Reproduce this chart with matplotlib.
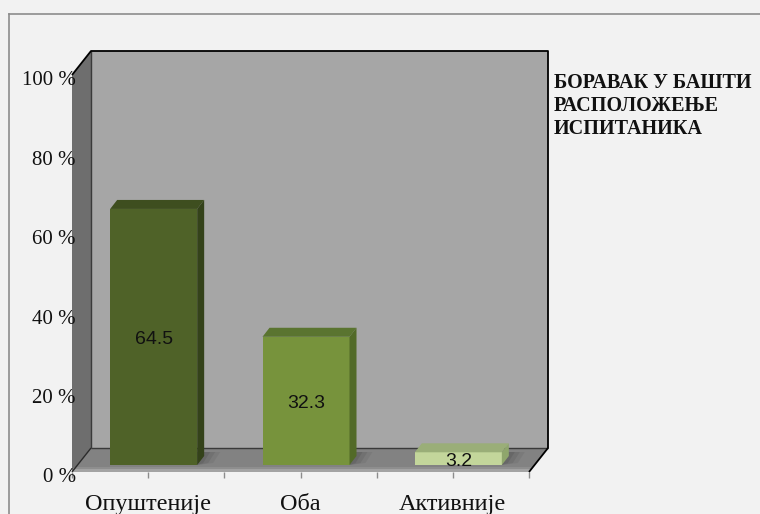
import matplotlib
matplotlib.use('Agg')
import matplotlib.pyplot as plt
from matplotlib.patches import Polygon
from matplotlib.lines import Line2D

categories = ['Опуштеније', 'Оба', 'Активније']
values = [64.5, 32.3, 3.2]
y_ticks = [0, 20, 40, 60, 80, 100]
y_tick_labels = ['0 %', '20 %', '40 %', '60 %', '80 %', '100 %']
legend_lines = ['БОРАВАК У БАШТИ', 'РАСПОЛОЖЕЊЕ', 'ИСПИТАНИКА']

face_colors = ['#4f6228', '#77933c', '#c3d69b']
top_colors = ['#3e4e1f', '#5a7430', '#9aae78']
side_colors = ['#34421a', '#526a28', '#8fa66c']

W, H = 760, 514
fig = plt.figure(figsize=(W / 100, H / 100), dpi=100, facecolor='#f2f2f2')

# outer chart-area frame (left and top edges visible)
fig.add_artist(Line2D([9 / W, 9 / W], [0, 1 - 14 / H], color='#8c8c8c', lw=1.2))
fig.add_artist(Line2D([9 / W, 1], [1 - 14 / H, 1 - 14 / H], color='#8c8c8c', lw=1.2))

# front plane of the plot box, in pixels
X0, X1 = 72, 529
Y0, Y1 = 472, 75
ax = fig.add_axes([X0 / W, 1 - Y0 / H, (X1 - X0) / W, (Y0 - Y1) / H])
n = len(categories)
ax.set_xlim(-0.5, n - 0.5)
ax.set_ylim(0, 100)
ax.patch.set_visible(False)
for s in ax.spines.values():
    s.set_visible(False)

# pixel -> data conversions for the oblique depth
kx = n / (X1 - X0)
ky = 100 / (Y0 - Y1)


def px(p):
    return p * kx


def py(p):
    return p * ky


def poly(pts, fc, z, alpha=1.0):
    ax.add_patch(Polygon(pts, closed=True, facecolor=fc, edgecolor='none', lw=0,
                         alpha=alpha, zorder=z, clip_on=False))


def seg(xs, ys, c, lw, z):
    ax.add_line(Line2D(xs, ys, color=c, lw=lw, zorder=z, clip_on=False,
                       solid_capstyle='butt'))


xl, xr = -0.5, n - 0.5
wdx, wdy = px(19), py(24)

# back wall, side wall, floor
poly([(xl + wdx, wdy), (xr + wdx, wdy), (xr + wdx, 100 + wdy), (xl + wdx, 100 + wdy)], '#a6a6a6', 1)
poly([(xl, 0), (xl + wdx, wdy), (xl + wdx, 100 + wdy), (xl, 100)], '#6e6e6e', 1)
poly([(xl, 0), (xr, 0), (xr + wdx, wdy), (xl + wdx, wdy)], '#828282', 1)
poly([(xl, 0), (xr, 0), (xr + px(2), py(3)), (xl + px(2), py(3))], '#a3a3a3', 1.1)
poly([(xl, py(3)), (xr, py(3)), (xr + px(4), py(5)), (xl + px(4), py(5))], '#8e8e8e', 1.1)

# frame edges
seg([xl, xl + wdx, xr + wdx, xr + wdx, xr], [100, 100 + wdy, 100 + wdy, wdy, 0], 'black', 1.3, 6)
seg([xl + wdx, xr + wdx], [wdy, wdy], '#3a3a3a', 1.0, 2)
seg([xl + wdx, xl + wdx], [wdy, 100 + wdy], '#3a3a3a', 1.0, 2)
seg([xl, xl + wdx], [0, wdy], '#2a2a2a', 1.0, 2)

# category tick marks below the floor
for t in [xl + 0.5 * k for k in range(2 * n + 1)]:
    seg([t, t], [0, -py(6)], '#8c8c8c', 1.0, 2)

# 3-D bars
bw = px(87)
fx, fy = px(5.5), py(7)
ddx, ddy = px(7), py(9)
for i, (v, fc, tc, sc) in enumerate(zip(values, face_colors, top_colors, side_colors)):
    a = i - bw / 2 + fx
    b = a + bw
    y_b = fy
    y_t = fy + v
    # soft shadow on the floor
    for k, al in [(16, 0.10), (11, 0.14), (6, 0.18)]:
        poly([(b, y_b), (b + px(k), y_b + py(2)), (b + px(k) + ddx, y_b + ddy + py(4)),
              (a + ddx + px(k), y_b + ddy + py(4)), (a + ddx, y_b + ddy)], '#3c3c3c', 3, alpha=al)
    poly([(a, y_b), (b, y_b), (b, y_t), (a, y_t)], fc, 4)
    poly([(a, y_t), (b, y_t), (b + ddx, y_t + ddy), (a + ddx, y_t + ddy)], tc, 4)
    poly([(b, y_b), (b + ddx, y_b + ddy), (b + ddx, y_t + ddy), (b, y_t)], sc, 4)
    ax.text((a + b) / 2, y_b + v / 2 - py(7), f'{v:g}', ha='center', va='baseline',
            fontsize=14, family='Liberation Sans', color='#111111', zorder=7)

# value axis labels
for t, lab in zip(y_ticks, y_tick_labels):
    ax.text(xl + px(4), t - py(10.5), lab, ha='right', va='baseline', fontsize=15,
            family='Liberation Serif', color='#111111', zorder=7, clip_on=False)

# category labels
for i, c in enumerate(categories):
    ax.text(i, -py(38), c, ha='center', va='baseline', fontsize=17.5,
            family='Liberation Serif', color='#111111', clip_on=False)

ax.set_xticks([])
ax.set_yticks([])

# legend caption at right
fig.text(554 / W, 1 - 73 / H, '\n'.join(legend_lines), ha='left', va='top',
         fontsize=14.5, fontweight='bold', family='Liberation Serif', color='#111111',
         linespacing=1.2)

fig.savefig('out.png', dpi=100, facecolor=fig.get_facecolor())
